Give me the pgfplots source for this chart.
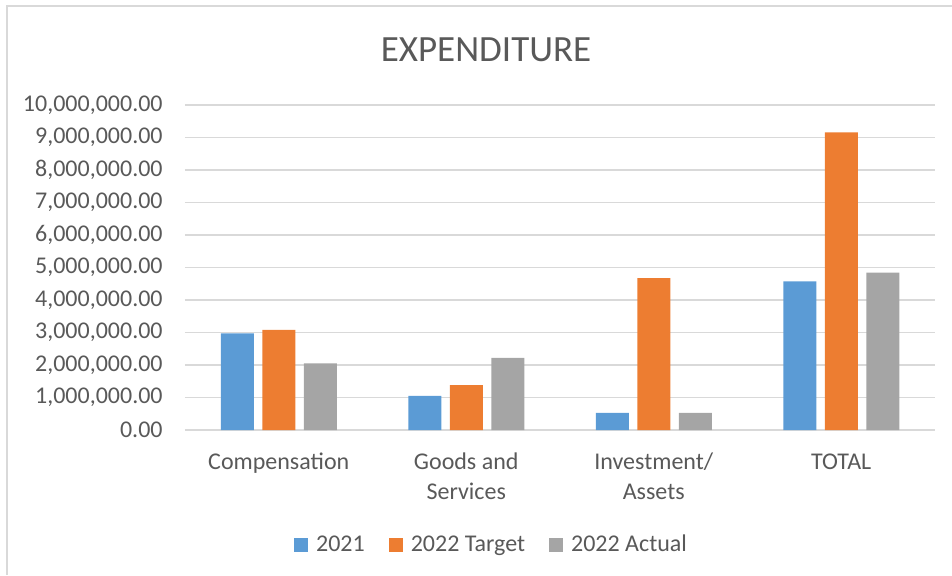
\documentclass[border=0pt]{standalone}
\usepackage{fontspec}
\setmainfont{Carlito}
\usepackage{pgfplots}
\pgfplotsset{compat=1.18}
\definecolor{c2021}{HTML}{5B9BD5}
\definecolor{ctarget}{HTML}{ED7D31}
\definecolor{cactual}{HTML}{A5A5A5}
\definecolor{txt}{HTML}{595959}
\definecolor{gridc}{HTML}{D9D9D9}
\begin{document}
\begin{tikzpicture}
\useasboundingbox (-92.5pt,-72.5pt) rectangle (383.5pt,215pt);
\draw[gridc, line width=1pt] (-89pt,-72.5pt) -- (-89pt,212pt) -- (383.5pt,212pt);
\node[font=\fontsize{18.5}{22}\selectfont, text=txt] at (150.5pt,190pt) {EXPENDITURE};
\begin{axis}[
  at={(0pt,0pt)}, anchor=south west,
  width=375pt, height=162.5pt, scale only axis,
  ybar=4.25pt, bar width=16.5pt,
  xmin=-0.5, xmax=3.5, ymin=0, ymax=10000000,
  xtick={0,1,2,3},
  xticklabels={\strut Compensation, \strut Goods and\\Services, \strut Investment/\\Assets, \strut TOTAL},
  xticklabel style={align=center, font=\fontsize{12}{15}\selectfont, text=txt, inner sep=0pt, yshift=-9pt},
  ytick={0,1000000,...,10000000},
  scaled y ticks=false,
  yticklabel style={font=\fontsize{12}{15}\selectfont, text=txt, inner sep=0pt, xshift=-11pt},
  /pgf/number format/assume math mode=true,
  yticklabel={\pgfmathprintnumber[fixed, fixed zerofill, precision=2, 1000 sep={,}]{\tick}},
  major tick length=0pt,
  axis line style={draw=none},
  ymajorgrids, major grid style={gridc, line width=0.9pt},
  legend columns=3,
  legend style={at={(0.41,-0.354)}, anchor=center, draw=none, fill=none,
    font=\fontsize{12}{15}\selectfont, text=txt,
    /tikz/every odd column/.append style={column sep=2pt},
    /tikz/every even column/.append style={column sep=10pt}},
  legend image code/.code={\fill[#1] (0pt,-3.5pt) rectangle (7pt,3.5pt);},
]
\addplot[fill=c2021, draw=none] coordinates {(0,2970000) (1,1050000) (2,530000) (3,4570000)};
\addplot[fill=ctarget, draw=none] coordinates {(0,3080000) (1,1380000) (2,4670000) (3,9160000)};
\addplot[fill=cactual, draw=none] coordinates {(0,2050000) (1,2220000) (2,530000) (3,4840000)};
\legend{2021, 2022 Target, 2022 Actual}
\end{axis}
\end{tikzpicture}
\end{document}
